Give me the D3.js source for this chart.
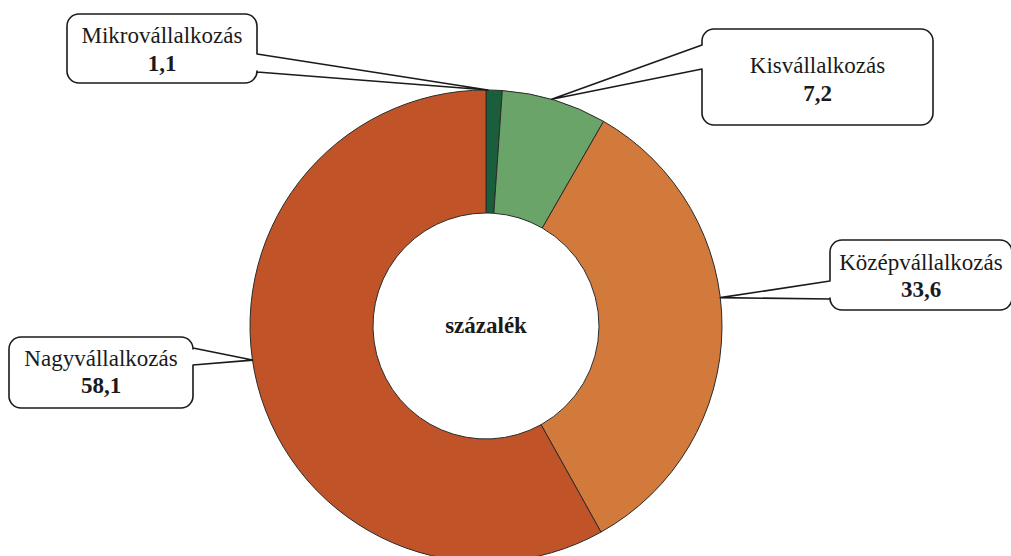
<!DOCTYPE html>
<html>
<head>
<meta charset="utf-8">
<script src="https://cdn.jsdelivr.net/npm/d3@7"></script>
<style>
    body { margin: 0; background: #fff; }
    svg { display: block; font-family: "Liberation Serif", "Times New Roman", serif; }
</style>
</head>
<body>
<div id="chart"></div>
<script>
//DATA
let categories = ['Mikrovállalkozás', 'Kisvállalkozás', 'Középvállalkozás', 'Nagyvállalkozás'];
let values = [1.1, 7.2, 33.6, 58.1];
let valueLabels = ['1,1', '7,2', '33,6', '58,1'];
let centerLabel = 'százalék';

//STYLE / LAYOUT
let colors = ['#1b5e3b', '#6aa468', '#d27a3c', '#c05428'];
let width = 1011, height = 556;
let cx = 486, cy = 326, outerR = 236, innerR = 113;
// callout boxes: position, side of pointer, pointer base on the box edge, where on the slice the tip lands
let boxes = [
    {x: 67, y: 14, w: 190, h: 69, side: 'right', a1: 54, a2: 72, frac: 0.12},
    {x: 702, y: 29, w: 231, h: 96, side: 'left', a1: 45, a2: 69, frac: 0.47},
    {x: 830, y: 240, w: 182, h: 70, side: 'left', a1: 281, a2: 299, frac: 0.44},
    {x: 9, y: 337, w: 184, h: 71, side: 'right', a1: 348, a2: 365, frac: 0.53}
];

let svg = d3.select('#chart').append('svg')
    .attr('width', width)
    .attr('height', height);

let pie = d3.pie().sort(null).value(function(d) { return d; });
let arcs = pie(values);
let arc = d3.arc().innerRadius(innerR).outerRadius(outerR);

let g = svg.append('g').attr('transform', 'translate(' + cx + ',' + cy + ')');

g.selectAll('path.slice')
    .data(arcs)
    .enter()
    .append('path')
    .attr('class', 'slice')
    .attr('d', arc)
    .attr('fill', function(d, i) { return colors[i]; })
    .attr('stroke', '#2b2b2b')
    .attr('stroke-width', 1);

g.append('text')
    .attr('text-anchor', 'middle')
    .attr('y', 7)
    .attr('font-size', 23)
    .attr('font-weight', 'bold')
    .attr('fill', '#1a1a1a')
    .text(centerLabel);

//Callouts
function calloutPath(b, tip) {
    let r = 12, x = b.x, y = b.y, w = b.w, h = b.h;
    let p = d3.path();
    p.moveTo(x + r, y);
    p.lineTo(x + w - r, y);
    p.arcTo(x + w, y, x + w, y + r, r);
    if (b.side == 'right') {
        p.lineTo(x + w, b.a1);
        p.lineTo(tip[0], tip[1]);
        p.lineTo(x + w, b.a2);
    }
    p.lineTo(x + w, y + h - r);
    p.arcTo(x + w, y + h, x + w - r, y + h, r);
    p.lineTo(x + r, y + h);
    p.arcTo(x, y + h, x, y + h - r, r);
    if (b.side == 'left') {
        p.lineTo(x, b.a2);
        p.lineTo(tip[0], tip[1]);
        p.lineTo(x, b.a1);
    }
    p.lineTo(x, y + r);
    p.arcTo(x, y, x + r, y, r);
    p.closePath();
    return p.toString();
}

let callouts = svg.selectAll('g.callout')
    .data(arcs)
    .enter()
    .append('g')
    .attr('class', 'callout');

callouts.append('path')
    .attr('d', function(d, i) {
        let b = boxes[i];
        let a = d.startAngle + b.frac * (d.endAngle - d.startAngle);
        let tip = [cx + outerR * Math.sin(a), cy - outerR * Math.cos(a)];
        return calloutPath(b, tip);
    })
    .attr('fill', '#fff')
    .attr('stroke', '#1a1a1a')
    .attr('stroke-width', 1.6)
    .attr('stroke-linejoin', 'round');

callouts.append('text')
    .attr('text-anchor', 'middle')
    .attr('x', function(d, i) { return boxes[i].x + boxes[i].w / 2; })
    .attr('y', function(d, i) { return [43, 73, 270, 366][i]; })
    .attr('font-size', 23)
    .attr('fill', '#1a1a1a')
    .text(function(d, i) { return categories[i]; });

callouts.append('text')
    .attr('text-anchor', 'middle')
    .attr('x', function(d, i) { return boxes[i].x + boxes[i].w / 2; })
    .attr('y', function(d, i) { return [71, 101, 297, 393][i]; })
    .attr('font-size', 23)
    .attr('font-weight', 'bold')
    .attr('fill', '#1a1a1a')
    .text(function(d, i) { return valueLabels[i]; });
</script>
</body>
</html>
